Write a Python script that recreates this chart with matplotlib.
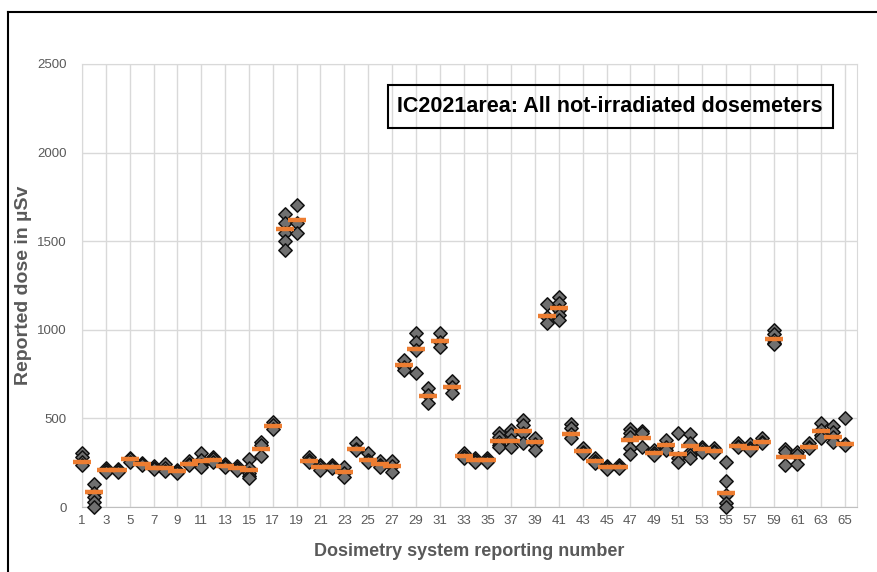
import matplotlib
matplotlib.use('Agg')
import matplotlib.pyplot as plt
from matplotlib.patches import Rectangle
from matplotlib.lines import Line2D

plt.rcParams['font.family'] = ['Liberation Sans', 'DejaVu Sans']

systems = list(range(1, 66))

# reported doses per dosimetry system (µSv)
doses = [
    [303, 284, 256, 237], [128, 80, 58, 30, 2], [218, 207, 199], [216, 207, 200],
    [278, 269, 256], [248, 240, 235], [232, 222, 213], [243, 218, 205],
    [210, 203, 190], [260, 243, 237], [303, 265, 237, 227], [280, 271, 252],
    [243, 230, 227], [233, 218, 209], [271, 218, 194, 175, 162], [369, 350, 288],
    [481, 463, 438], [1653, 1603, 1546, 1500, 1450], [1704, 1603, 1546], [284, 265, 256],
    [235, 224, 209], [237, 226, 220], [224, 190, 171], [363, 330, 322],
    [307, 265, 256], [260, 237, 224], [260, 231, 199], [830, 790, 773],
    [984, 933, 886, 758], [670, 632, 585], [980, 933, 905], [713, 675, 641],
    [303, 288, 275], [275, 263, 256], [279, 263, 256], [419, 397, 369, 350, 340],
    [435, 410, 378, 340], [491, 463, 416, 359], [388, 356, 322], [1144, 1074, 1037],
    [1187, 1149, 1112, 1083, 1055], [467, 444, 410, 388], [331, 312, 303], [275, 260, 246],
    [231, 226, 212], [237, 228, 220], [438, 416, 397, 331, 299], [429, 416, 340],
    [320, 307, 292], [378, 340, 322], [419, 275, 256], [410, 359, 312, 293, 275],
    [340, 325, 312], [331, 318, 312], [256, 147, 68, 21, 2], [359, 346, 340],
    [354, 335, 322], [388, 369, 359], [1000, 975, 940, 925, 920], [327, 312, 237],
    [312, 293, 241], [359, 340, 331], [472, 435, 406, 388], [457, 425, 397, 369],
    [500, 357, 350],
]

# orange bars (mean per system)
means = [
    256, 83, 207, 207, 269, 241, 222, 218, 203, 243, 260, 265, 230, 218, 207, 326,
    459, 1569, 1620, 260, 224, 226, 198, 327, 265, 243, 233, 803, 890, 626, 939, 675,
    288, 263, 263, 372, 372, 431, 367, 1078, 1121, 410, 314, 260, 226, 228, 378, 391,
    307, 348, 299, 342, 325, 318, 79, 346, 335, 369, 948, 280, 284, 340, 429, 393,
    357,
]

xticks = list(range(1, 66, 2))
yticks = [0, 500, 1000, 1500, 2000, 2500]

grey = '#595959'

fig = plt.figure(figsize=(8.77, 5.72), dpi=100)
ax = fig.add_axes([82 / 877, 1 - 507 / 572, 775 / 877, 443 / 572])

xs = [s for s, d in zip(systems, doses) for _ in d]
ys = [v for d in doses for v in d]
ax.scatter(xs, ys, marker='D', s=46, facecolor='#707070', edgecolor='#111111',
           linewidths=1.1, zorder=3, clip_on=False)
ax.scatter(systems, means, marker='_', s=150, color='#ED7D31', linewidths=3.2,
           zorder=4, clip_on=False)

ax.set_xlim(1, 66)
ax.set_ylim(0, 2500)
ax.set_xticks(xticks)
ax.set_yticks(yticks)
ax.tick_params(axis='y', length=0, labelsize=9.5, labelcolor=grey, pad=11)
ax.tick_params(axis='x', length=0, labelsize=9.5, labelcolor=grey, pad=6)
ax.grid(True, color='#d9d9d9', lw=1)
ax.set_axisbelow(True)
for side in ['top', 'right', 'left']:
    ax.spines[side].set_color('#d9d9d9')
ax.spines['bottom'].set_color('#bfbfbf')

ax.set_ylabel('Reported dose in µSv', fontsize=14, fontweight='bold', color=grey)
ax.yaxis.set_label_coords(-0.064, 0.5)
ax.set_xlabel('Dosimetry system reporting number', fontsize=13, fontweight='bold', color=grey, labelpad=11)

# title box
fig.add_artist(Rectangle((388 / 877, 1 - 128 / 572), 445 / 877, 43 / 572,
                         transform=fig.transFigure, fill=False, ec='black', lw=1.5))
fig.text(610 / 877, 1 - 106.5 / 572, 'IC2021area: All not-irradiated dosemeters',
         ha='center', va='center', fontsize=15.5, fontweight='bold')

# outer frame
fig.add_artist(Line2D([8 / 877, 8 / 877], [0, 1 - 12 / 572], transform=fig.transFigure, color='black', lw=1.5))
fig.add_artist(Line2D([8 / 877, 1], [1 - 12 / 572, 1 - 12 / 572], transform=fig.transFigure, color='black', lw=1.5))

fig.savefig('out.png', dpi=100)
